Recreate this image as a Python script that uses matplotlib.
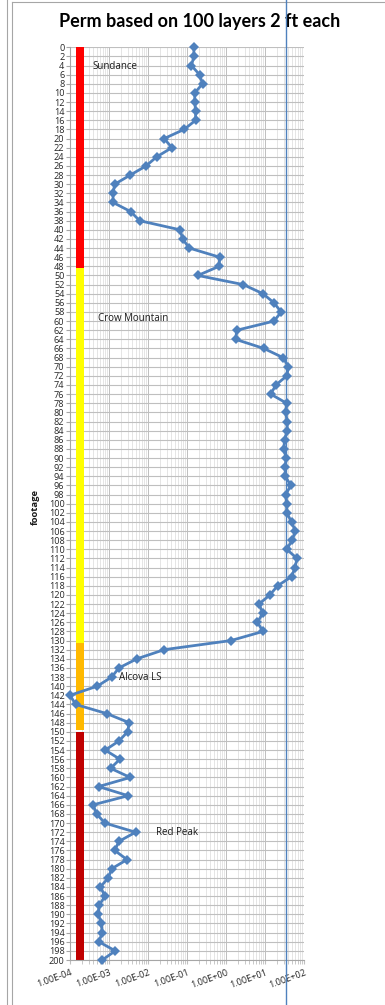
import numpy as np
import matplotlib
matplotlib.use("Agg")
import matplotlib.pyplot as plt
from matplotlib.ticker import LogLocator, FixedLocator, NullFormatter
from matplotlib.transforms import blended_transform_factory
from matplotlib.lines import Line2D

plt.rcParams['font.family'] = ['Open Sans', 'DejaVu Sans']

# Depth of each 2 ft layer (ft)
footage = list(range(0, 202, 2))

# Permeability of each layer (md)
perm = [
    0.15, 0.15, 0.13, 0.21, 0.25, 0.158, 0.158, 0.166, 0.166, 0.084,
    0.026, 0.041, 0.0167, 0.0089, 0.0035, 0.0014, 0.00127, 0.00127, 0.0036, 0.0061,
    0.067, 0.077, 0.115, 0.69, 0.66, 0.19, 2.78, 8.9, 17, 26,
    17, 1.88, 1.77, 9.4, 29, 40, 36, 19, 14, 36,
    34, 37, 37, 32, 30, 35, 33, 33, 46, 34,
    36, 36, 48, 60, 50, 36, 66, 59, 48, 21,
    13.4, 7.0, 8.8, 6.4, 8.9, 1.34, 0.026, 0.0052, 0.0018, 0.00117,
    0.0005, 0.0001, 0.00014, 0.00087, 0.0033, 0.0030, 0.0018, 0.0008, 0.0019, 0.0011,
    0.0035, 0.00054, 0.0031, 0.00039, 0.00048, 0.00079, 0.0048, 0.0018, 0.0014, 0.0029,
    0.00117, 0.00096, 0.0006, 0.00079, 0.00056, 0.00053, 0.00064, 0.00067, 0.00055, 0.00145,
    0.00067,
]

# Formation intervals (ft) and their colours
zone_names = ["Sundance", "Crow Mountain", "Alcova LS", "Red Peak"]
zone_tops = [0, 48.3, 130.6, 150.0]
zone_bases = [48.3, 130.6, 149.5, 200.0]
zone_colors = ["#FF0000", "#FFFF00", "#FFB900", "#C00000"]

# Formation name labels: (perm position, depth)
label_x = [3.7e-4, 5.1e-4, 1.8e-3, 0.016]
label_y = [4.3, 59.4, 138.2, 172.0]

# Cut-off permeability line
cutoff_perm = 33.6

x_ticks = [1e-4, 1e-3, 1e-2, 1e-1, 1e0, 1e1, 1e2]
x_tick_labels = ["1.00E-04", "1.00E-03", "1.00E-02", "1.00E-01",
                 "1.00E+00", "1.00E+01", "1.00E+02"]

W, H = 385, 1005
fig = plt.figure(figsize=(W / 100, H / 100), dpi=100)
ax = fig.add_axes([70 / W, 1 - 960 / H, 234 / W, 912.7 / H])

ax.set_xscale("log")
ax.set_xlim(1e-4, 1e2)
ax.set_ylim(200, 0)

# grid
ax.xaxis.set_major_locator(FixedLocator(x_ticks))
ax.xaxis.set_minor_locator(LogLocator(base=10, subs=np.arange(2, 10)))
ax.xaxis.set_minor_formatter(NullFormatter())
ax.set_yticks(footage)
ax.grid(which="major", axis="x", color="#BFBFBF", lw=0.7)
ax.grid(which="minor", axis="x", color="#DADADA", lw=0.5)
ax.grid(which="major", axis="y", color="#BFBFBF", lw=0.8)
ax.set_axisbelow(True)

for side in ("top", "right"):
    ax.spines[side].set_visible(False)
for side in ("left", "bottom"):
    ax.spines[side].set_color("#A6A6A6")
    ax.spines[side].set_linewidth(0.8)

ax.tick_params(axis="y", which="major", length=3, color="#A6A6A6",
               labelsize=6.6, pad=1, labelcolor="#262626")
ax.tick_params(axis="x", which="both", length=3, color="#BFBFBF",
               labelsize=6.6, labelcolor="#262626", pad=3)
ax.set_xticklabels(x_tick_labels, rotation=20, ha="right",
                   rotation_mode="anchor")

# formation colour column
for top, base, col in zip(zone_tops, zone_bases, zone_colors):
    ax.fill_betweenx([top, base], 1.43e-4, 2.29e-4, color=col, lw=0, zorder=2)

# permeability profile
ax.plot(perm, footage, color="#4F81BD", lw=2.0, marker="D", markersize=4.8,
        markeredgewidth=0, zorder=4, clip_on=False)

# formation names
for name, lx, ly in zip(zone_names, label_x, label_y):
    ax.text(lx, ly, name, fontsize=7.0, va="center", ha="left",
            color="#1A1A1A", zorder=5)

# cut-off line across the whole chart height
trans = blended_transform_factory(ax.transData, fig.transFigure)
fig.add_artist(Line2D([cutoff_perm, cutoff_perm], [0, 1], transform=trans,
                      color="#4F81BD", lw=1.0, zorder=6))

# outer chart frame
fig.add_artist(Line2D([7 / W, 7 / W], [0, 1], color="#A6A6A6", lw=0.8))
fig.add_artist(Line2D([12 / W, 12 / W], [0, 1 - 2 / H], color="#A6A6A6", lw=0.8))
fig.add_artist(Line2D([12 / W, 1], [1 - 2 / H, 1 - 2 / H], color="#A6A6A6", lw=0.8))

fig.text(200 / W, 1 - 22 / H, "Perm based on 100 layers 2 ft each",
         ha="center", va="center", fontsize=13, fontweight="bold",
         color="#000000", family=["Lato", "DejaVu Sans"])
fig.text(35 / W, 1 - 507 / H, "footage", rotation=90, ha="center",
         va="center", fontsize=6.8, fontweight="bold", color="#1A1A1A")

fig.savefig("out.png", dpi=100)
